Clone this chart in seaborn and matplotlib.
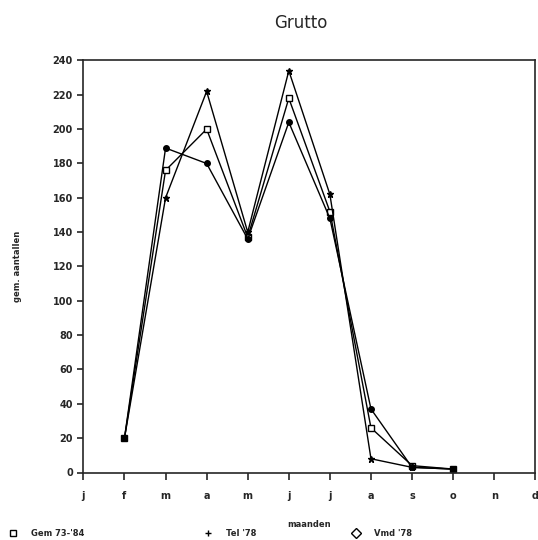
import pandas as pd
import matplotlib.pyplot as plt
import seaborn as sns

# month ticks (Dutch initials) and the observed months
months = ["j", "f", "m", "a", "m", "j", "j", "a", "s", "o", "n", "d"]
obs_months = [1, 2, 3, 4, 5, 6, 7, 8, 9]

gem_73_84 = [20, 176, 200, 137, 218, 152, 26, 4, 2]
tel_78 = [20, 160, 222, 140, 234, 162, 8, 3, 2]
vmd_78 = [20, 189, 180, 136, 204, 148, 37, 3, 2]

series_names = ["Gem 73-'84", "Tel '78", "Vmd '78"]

data = pd.DataFrame({
    "maand": obs_months * 3,
    "aantal": gem_73_84 + tel_78 + vmd_78,
    "reeks": [n for n in series_names for _ in obs_months],
})

sns.set_style("ticks")
plt.rcParams['font.family'] = ['DejaVu Sans']

fig = plt.figure(figsize=(5.38, 5.40), dpi=100)
ax = fig.add_axes([0.155, 0.125, 0.84, 0.763])

sns.lineplot(data=data, x="maand", y="aantal", hue="reeks", style="reeks",
             palette=["black"] * 3, markers={"Gem 73-'84": "s", "Tel '78": "*", "Vmd '78": "o"},
             dashes=False, linewidth=1.0, markersize=5, markeredgecolor="black",
             markeredgewidth=1.0, ax=ax, legend=False)

# open squares for the first series, smaller dots for the third
ax.lines[0].set_markerfacecolor("white")
ax.lines[2].set_markersize(4)

ax.set_xlim(0, 11)
ax.set_ylim(0, 240)
ax.set_xticks(range(12))
ax.set_xticklabels(months, fontsize=7, fontweight="bold")
ax.set_yticks(range(0, 241, 20))
ax.tick_params(axis="y", labelsize=7, width=1.2, length=4)
for lbl in ax.get_yticklabels():
    lbl.set_fontweight("bold")
ax.tick_params(axis="x", length=5, width=1.2, pad=8)
for s in ax.spines.values():
    s.set_linewidth(1.2)
    s.set_visible(True)

ax.set_xlabel("maanden", fontsize=6, fontweight="bold", labelpad=14)
ax.set_ylabel("gem. aantallen", fontsize=6, fontweight="bold", labelpad=22)
fig.suptitle("Grutto", x=0.56, y=0.975, fontsize=12)

# legend entries spread along the bottom
legend_x = [-0.006, 0.357, 0.632]
for name, m, x0 in zip(series_names, ["s", "+", "D"], legend_x):
    h = plt.Line2D([], [], color="black", marker=m, linestyle="none", markersize=5,
                   markerfacecolor="white")
    leg = fig.legend([h], [name], loc="lower left", bbox_to_anchor=(x0, -0.01),
                     frameon=False, handletextpad=1.2, prop={"weight": "bold", "size": 6})

fig.savefig("out.png", dpi=100)
